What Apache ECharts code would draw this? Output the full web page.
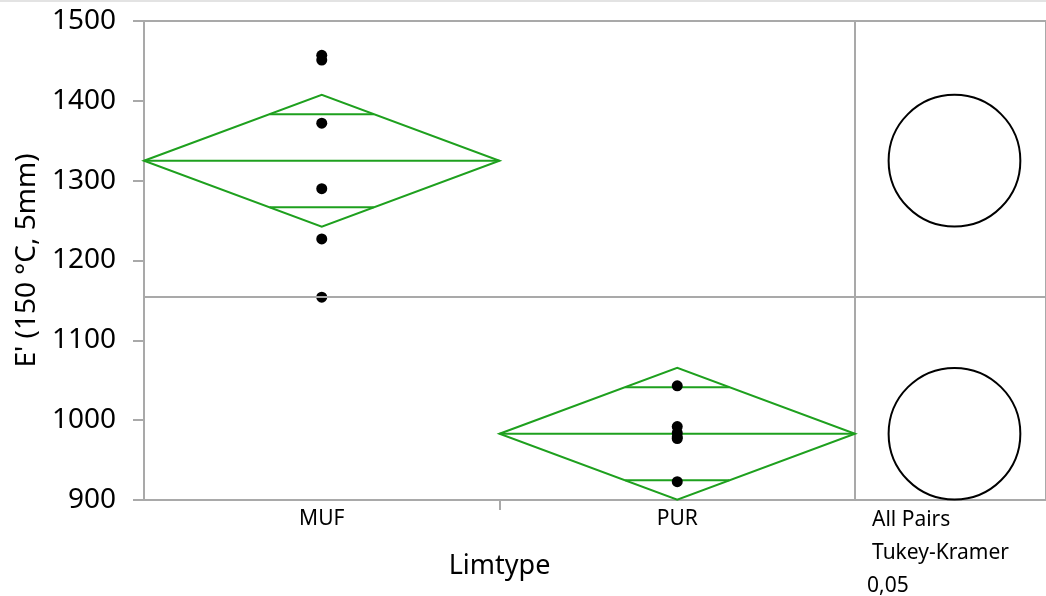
<!DOCTYPE html>
<html>
<head>
<meta charset="utf-8">
<script src="https://cdn.jsdelivr.net/npm/echarts@6/dist/echarts.min.js"></script>
<style>
    html, body { margin: 0; padding: 0; background: #fff; }
    #chart { width: 1046px; height: 596px; }
    #topline { position: absolute; left: 0; top: 0; width: 1046px; height: 2px; background: #e3e3e3; }
</style>
</head>
<body>
<div id="chart"></div>
<div id="topline"></div>
<script>
// values
const categories = ['MUF', 'PUR'];
const mufValues = [1457, 1451, 1372, 1290, 1227, 1154];
const purValues = [1043, 992, 984, 979, 977, 923];
const groupMeans = [1325, 983];
const ciHalfWidth = [82.5, 82.5];
const grandMean = 1154;
const yMin = 900, yMax = 1500, yStep = 100;
const testLabel = ['All Pairs\nTukey-Kramer', '0,05'];

const green = '#1ea01e';
const gray = '#a9a9a9';
const font = "'Noto Sans', sans-serif";

let points = [];
mufValues.forEach(v => points.push([categories[0], v]));
purValues.forEach(v => points.push([categories[1], v]));
let diamondData = categories.map((c, i) => [i, groupMeans[i], ciHalfWidth[i]]);

// means diamond + overlap marks
function renderDiamond(params, api) {
    let cat = api.value(0), mean = api.value(1), ci = api.value(2);
    let c = api.coord([cat, mean]);
    let top = api.coord([cat, mean + ci])[1];
    let bot = api.coord([cat, mean - ci])[1];
    let half = api.size([1, 0])[0] / 2;
    let k = 1 / Math.SQRT2;
    let up = api.coord([cat, mean + ci * k])[1];
    let lo = api.coord([cat, mean - ci * k])[1];
    let w = half * (1 - k);
    let style = { stroke: green, lineWidth: 2, fill: 'none' };
    return {
        type: 'group',
        children: [
            { type: 'polygon', shape: { points: [[c[0] - half, c[1]], [c[0], top], [c[0] + half, c[1]], [c[0], bot]] }, style: style },
            { type: 'line', shape: { x1: c[0] - half, y1: c[1], x2: c[0] + half, y2: c[1] }, style: style },
            { type: 'line', shape: { x1: c[0] - w, y1: up, x2: c[0] + w, y2: up }, style: style },
            { type: 'line', shape: { x1: c[0] - w, y1: lo, x2: c[0] + w, y2: lo }, style: style }
        ]
    };
}

// comparison circles, all on the panel's centre (x = 0)
function renderCircle(params, api) {
    let c = api.coord([0, api.value(1)]);
    let r = api.size([0, api.value(2)])[1];
    return {
        type: 'circle',
        shape: { cx: c[0], cy: c[1], r: r },
        style: { stroke: '#000', lineWidth: 2, fill: 'none' }
    };
}

let grandLine = {
    silent: true,
    symbol: ['none', 'none'],
    label: { show: false },
    lineStyle: { color: gray, width: 2, type: 'solid' },
    data: [{ yAxis: grandMean }]
};

let chart = echarts.init(document.getElementById('chart'));
chart.setOption({
    animation: false,
    textStyle: { fontFamily: font },
    grid: [
        { left: 144, right: 191, top: 21, bottom: 96, show: true, borderColor: gray, borderWidth: 2 },
        { left: 855, right: -8, top: 21, bottom: 96, show: true, borderColor: gray, borderWidth: 2 }
    ],
    xAxis: [{
        gridIndex: 0,
        type: 'category',
        data: categories,
        name: 'Limtype',
        nameLocation: 'middle',
        nameGap: 53,
        nameTextStyle: { fontSize: 27, color: '#000', fontFamily: font },
        axisLine: { show: true, lineStyle: { color: gray, width: 2 } },
        axisTick: { show: false },
        axisLabel: { fontSize: 21, color: '#000', margin: 9, fontFamily: font }
    }, {
        gridIndex: 0,
        type: 'value',
        min: 0,
        max: 2,
        position: 'bottom',
        axisLine: { show: false },
        axisLabel: { show: false },
        splitLine: { show: false },
        axisTick: { show: true, customValues: [1], length: 10, lineStyle: { color: gray, width: 2 } }
    }, {
        // panel is cut off on the right, so its centre sits right of the visible middle
        gridIndex: 1,
        type: 'value',
        min: -1,
        max: 0.92,
        show: false
    }],
    yAxis: [{
        gridIndex: 0,
        type: 'value',
        min: yMin,
        max: yMax,
        interval: yStep,
        name: "E' (150 °C, 5mm)",
        nameLocation: 'middle',
        nameGap: 97,
        nameTextStyle: { fontSize: 28, color: '#000', fontFamily: font },
        axisLine: { show: true, lineStyle: { color: gray, width: 2 } },
        axisTick: { show: true, length: 11, lineStyle: { color: gray, width: 2 } },
        axisLabel: { fontSize: 28, color: '#000', margin: 28, fontFamily: font, formatter: v => String(v) },
        splitLine: { show: false }
    }, {
        gridIndex: 1,
        type: 'value',
        min: yMin,
        max: yMax,
        show: false
    }],
    graphic: [
        { type: 'text', left: 872, top: 504, style: { text: testLabel[0], fontSize: 21, lineHeight: 33, fill: '#000', fontFamily: font } },
        { type: 'text', left: 867, top: 570, style: { text: testLabel[1], fontSize: 21, lineHeight: 33, fill: '#000', fontFamily: font } }
    ],
    series: [{
        type: 'custom',
        xAxisIndex: 0,
        yAxisIndex: 0,
        renderItem: renderDiamond,
        data: diamondData,
        z: 2
    }, {
        type: 'scatter',
        xAxisIndex: 0,
        yAxisIndex: 0,
        data: points,
        symbolSize: 11,
        itemStyle: { color: '#000', opacity: 1 },
        markLine: grandLine,
        z: 3
    }, {
        type: 'custom',
        xAxisIndex: 2,
        yAxisIndex: 1,
        renderItem: renderCircle,
        data: diamondData,
        markLine: grandLine,
        z: 2
    }]
});
</script>
</body>
</html>
